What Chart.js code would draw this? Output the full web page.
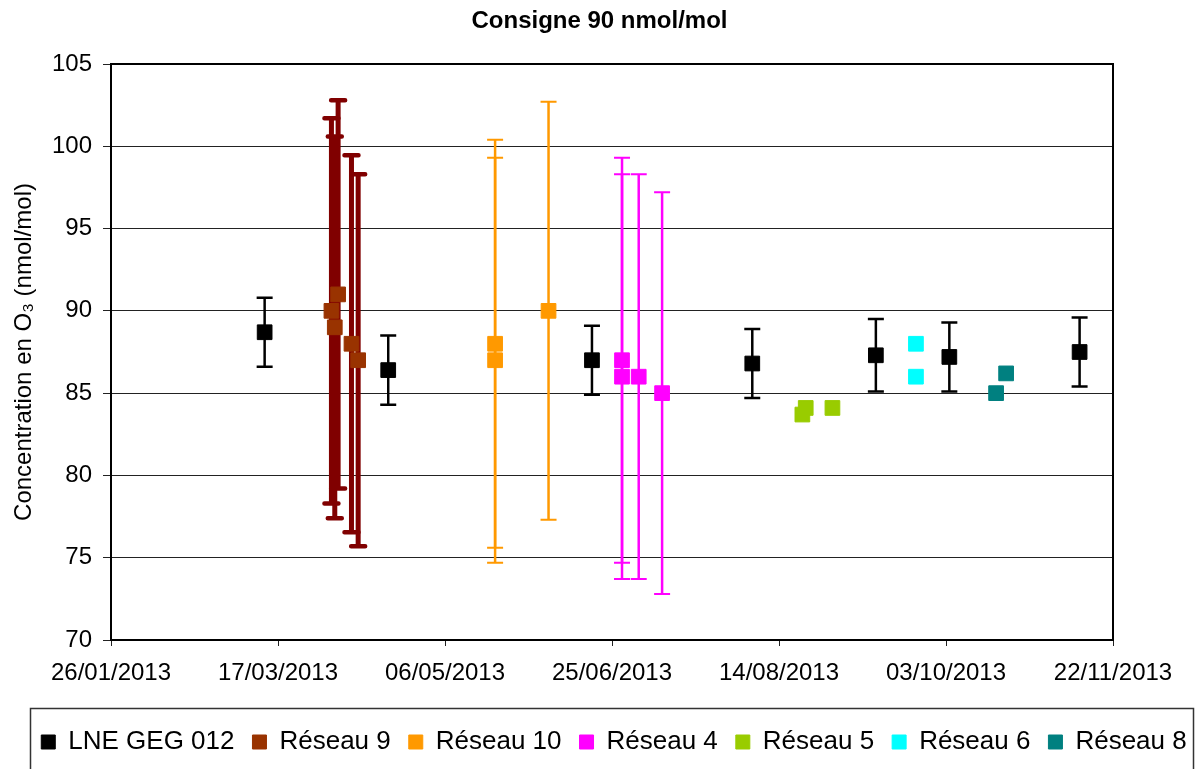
<!DOCTYPE html>
<html><head><meta charset="utf-8">
<script src="https://cdn.jsdelivr.net/npm/chart.js@4.4.1/dist/chart.umd.min.js"></script>
<style>html,body{margin:0;padding:0;background:#fff}#wrap{width:1199px;height:769px}</style>
</head><body><div id="wrap"><canvas id="c" width="1199" height="769"></canvas></div>
<script>
// ---- data ----
const startDate = '26/01/2013';
const xTickLabels = ['26/01/2013','17/03/2013','06/05/2013','25/06/2013','14/08/2013','03/10/2013','22/11/2013'];
const yMin = 70, yMax = 105, yStep = 5;

const lneDates  = ['13/03/2013','19/04/2013','19/06/2013','06/08/2013','12/09/2013','04/10/2013','12/11/2013'];
const lneValues = [88.7, 86.4, 87.0, 86.8, 87.3, 87.2, 87.5];
const lneErrors = [2.1, 2.1, 2.1, 2.1, 2.2, 2.1, 2.1];

const r9Dates  = ['02/04/2013','03/04/2013','04/04/2013','08/04/2013','10/04/2013'];
const r9Values = [90.0, 89.0, 91.0, 88.0, 87.0];
const r9Errors = [11.7, 11.6, 11.8, 11.45, 11.3];

const r10Dates  = ['21/05/2013','21/05/2013','06/06/2013'];
const r10Values = [88.0, 87.0, 90.0];
const r10Errors = [12.4, 12.3, 12.7];

const r4Dates  = ['28/06/2013','28/06/2013','03/07/2013','10/07/2013'];
const r4Values = [87.0, 86.0, 86.0, 85.0];
const r4Errors = [12.3, 12.3, 12.3, 12.2];

const r5Dates  = ['21/08/2013','22/08/2013','30/08/2013'];
const r5Values = [83.7, 84.1, 84.1];

const r6Dates  = ['24/09/2013','24/09/2013'];
const r6Values = [88.0, 86.0];

const r8Dates  = ['18/10/2013','21/10/2013'];
const r8Values = [85.0, 86.2];

// ---- helpers ----
function parseDate(s){ const [d,m,y] = s.split('/').map(Number); return Date.UTC(y, m-1, d); }
const t0 = parseDate(startDate);
function dayOf(s){ return (parseDate(s) - t0) / 86400000; }
function pts(dates, values){ return dates.map((d,i)=>({x: dayOf(d), y: values[i]})); }

Chart.defaults.font.family = '"Liberation Sans", Arial, sans-serif';
Chart.defaults.color = '#000';

function ds(label, dates, values, color, errors, errStyle){
  return {
    label, data: pts(dates, values), errors: errors || null, errStyle: errStyle || null,
    backgroundColor: color, borderColor: color, borderWidth: 1,
    pointStyle: 'rect', pointRadius: 10.4, pointHoverRadius: 10.4, showLine: false,
    xAxisID: 'x', yAxisID: 'y'
  };
}

const datasets = [
  ds('LNE GEG 012', lneDates, lneValues, '#000000', lneErrors, {color:'#000000', width:2.5, cap:16, capWidth:2.5, round:false}),
  ds('Réseau 9', r9Dates, r9Values, '#993300', r9Errors, {color:'#800000', width:5, cap:14, capWidth:4.5, round:true}),
  ds('Réseau 10', r10Dates, r10Values, '#FF9900', r10Errors, {color:'#FF9900', width:2.5, cap:16, capWidth:2, round:false}),
  ds('Réseau 4', r4Dates, r4Values, '#FF00FF', r4Errors, {color:'#FF00FF', width:2.5, cap:16, capWidth:2, round:false}),
  ds('Réseau 5', r5Dates, r5Values, '#99CC00'),
  ds('Réseau 6', r6Dates, r6Values, '#00FFFF'),
  ds('Réseau 8', r8Dates, r8Values, '#008080')
];

const framePlugin = {
  id: 'frame',
  afterLayout(chart, args, opts){
    if (chart.legend){ chart.legend.left += opts.legendShift; chart.legend.right += opts.legendShift; }
  },
  beforeDatasetsDraw(chart, args, opts){
    const {ctx, chartArea: a, scales: {x, y}} = chart;
    ctx.save();
    ctx.strokeStyle = '#000'; ctx.lineWidth = 2;
    ctx.strokeRect(a.left, a.top, a.right - a.left, a.bottom - a.top);
    chart.data.datasets.forEach((d, i) => {
      if (!d.errors || !chart.isDatasetVisible(i)) return;
      const s = d.errStyle;
      ctx.strokeStyle = s.color;
      d.data.forEach((p, j) => {
        const e = d.errors[j];
        const px = x.getPixelForValue(p.x);
        const yt = y.getPixelForValue(p.y + e);
        const yb = y.getPixelForValue(p.y - e);
        ctx.lineCap = 'butt';
        ctx.lineWidth = s.width;
        ctx.beginPath(); ctx.moveTo(px, yt); ctx.lineTo(px, yb); ctx.stroke();
        ctx.lineCap = s.round ? 'round' : 'butt';
        ctx.lineWidth = s.capWidth;
        ctx.beginPath();
        ctx.moveTo(px - s.cap/2, yt); ctx.lineTo(px + s.cap/2, yt);
        ctx.moveTo(px - s.cap/2, yb); ctx.lineTo(px + s.cap/2, yb);
        ctx.stroke();
      });
    });
    ctx.restore();
  },
  afterDraw(chart, args, opts){
    const ctx = chart.ctx; const b = opts.legendBox;
    ctx.save(); ctx.strokeStyle = '#333'; ctx.lineWidth = 1.5;
    ctx.strokeRect(b.left, b.top, b.width, b.height);
    ctx.restore();
  }
};

new Chart(document.getElementById('c'), {
  type: 'scatter',
  data: { datasets },
  options: {
    responsive: false, animation: false, events: [],
    layout: { padding: { left: 0, right: 0, top: 0, bottom: 4 } },
    scales: {
      x: {
        type: 'linear', position: 'bottom',
        min: dayOf(xTickLabels[0]), max: dayOf(xTickLabels[xTickLabels.length-1]),
        afterBuildTicks(s){ s.ticks = xTickLabels.map(l => ({value: dayOf(l)})); },
        afterFit(s){ s.height = 71; },
        ticks: { callback: (v, i) => xTickLabels[i], font: { size: 24, lineHeight: 1.2 }, padding: 13, maxRotation: 0, autoSkip: false },
        grid: { drawOnChartArea: false, color: '#222', tickLength: 6, lineWidth: 1 },
        border: { display: false }
      },
      y: {
        type: 'linear', position: 'left', min: yMin, max: yMax,
        afterFit(s){ s.width = 111; },
        ticks: { stepSize: yStep, font: { size: 24 }, padding: 11 },
        grid: { color: '#222', lineWidth: 1, tickLength: 8 },
        border: { display: false },
        title: { display: true, text: 'Concentration en O₃ (nmol/mol)', font: { size: 24, lineHeight: 1.2 }, padding: { top: 10, bottom: 0 } }
      },
      y2: {
        type: 'linear', position: 'right', display: true,
        afterFit(s){ s.width = 86; },
        ticks: { display: false }, grid: { display: false }, border: { display: false }
      }
    },
    plugins: {
      title: { display: true, text: 'Consigne 90 nmol/mol', color: '#000', font: { size: 24, weight: 'bold', lineHeight: 1.2 }, padding: { top: 7, bottom: 28.2 } },
      legend: { position: 'bottom', labels: { font: { size: 26 }, color: '#000', boxWidth: 14, boxHeight: 14, padding: 18 } },
      tooltip: { enabled: false },
      frame: { legendShift: 14.5, legendBox: { left: 30.5, top: 708.5, width: 1163, height: 80 } }
    }
  },
  plugins: [framePlugin]
});
</script></body></html>
